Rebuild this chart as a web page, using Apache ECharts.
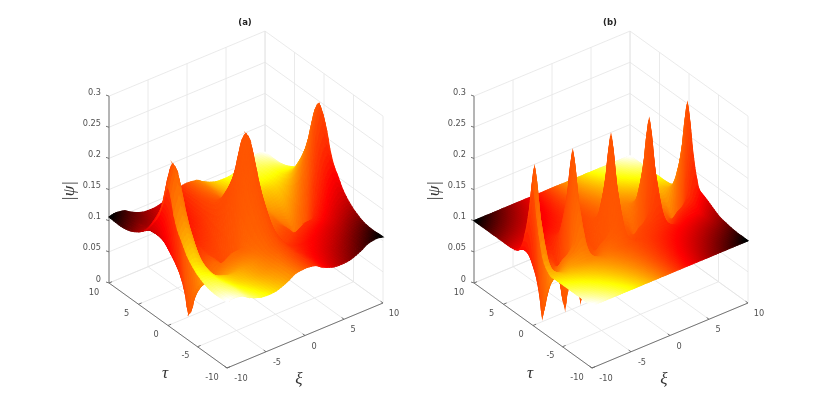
<!DOCTYPE html>
<html><head><meta charset="utf-8">
<style>html,body{margin:0;padding:0;background:#fff}#c{width:830px;height:415px}#c canvas{filter:blur(0.45px)}</style>
<script src="https://cdn.jsdelivr.net/npm/echarts@6/dist/echarts.min.js"></script>
</head><body><div id="c"></div>
<script>
// ---------- data (psi values in thousandths) ----------
const panelTitles=['(a)','(b)'];
const xiTicks=[-10,-5,0,5,10];
const tauTicks=[10,5,0,-5,-10];
const zTicks=[0,0.05,0.1,0.15,0.2,0.25,0.3];
const zLabels=['0','0.05','0.1','0.15','0.2','0.25','0.3'];

const xiA=[-10,-9.35,-8.55,-7.95,-7.35,-6.55,-5.65,-4.68,-3.7,-2.8,-2,-1.4,-0.8,0,0.8,1.4,2,2.8,3.7,4.68,5.65,6.55,7.35,7.95,8.55,9.35,10];
const tauA=[-10,-8,-6.5,-5,-4,-3.2,-2.4,-1.6,-1,-0.5,0,0.5,1,1.6,2.4,3.2,4,5,6.5,8,10];
const a00=[222,255,215,115,5,45,70,80,70,45,5,115,215,255,215,115,5,45,70,80,70,45,5,115,215,255,222];
const a05=[210,243,205,125,30,52,70,80,70,52,30,125,205,243,205,125,30,52,70,80,70,52,30,125,205,243,210];
const a10=[185,210,185,135,48,58,70,80,70,58,48,135,185,210,185,135,48,58,70,80,70,58,48,135,185,210,185];
const a16=[165,183,165,125,62,64,72,82,72,64,62,125,165,183,165,125,62,64,72,82,72,64,62,125,165,183,165];
const a24=[150,160,145,115,74,72,76,84,76,72,74,115,145,160,145,115,74,72,76,84,76,72,74,115,145,160,150];
const a32=[135,142,128,108,83,80,80,86,80,80,83,108,128,142,128,108,83,80,80,86,80,80,83,108,128,142,135];
const a40=[125,125,118,106,92,88,86,90,86,88,92,106,118,125,118,106,92,88,86,90,86,88,92,106,118,125,125];
const a50=[116,115,112,104,98,95,91,93,91,95,98,104,112,115,112,104,98,95,91,93,91,95,98,104,112,115,116];
const a65=[108,110,109,104,99,94,91,91,91,94,99,104,109,110,109,104,99,94,91,91,91,94,99,104,109,110,108];
const a80=[105,108,107,105,100,94,91,90,91,94,100,105,107,108,107,105,100,94,91,90,91,94,100,105,107,108,105];
const a100=[106,108,107,105,100,95,91,90,91,95,100,105,107,108,107,105,100,95,91,90,91,95,100,105,107,108,106];
// near-side rows (tau < 0) are lopsided about each ridge
const an16=[165,183,165,125,62,62,68,76,84,90,90,125,165,183,165,125,62,62,68,76,84,90,90,125,165,183,165];
const an24=[150,160,145,115,75,70,72,80,87,92,97,115,145,160,145,115,75,70,72,80,87,92,97,115,145,160,150];
const an32=[135,142,128,108,84,78,78,84,90,95,99,110,128,142,128,108,84,78,78,84,90,95,99,110,128,142,135];
const an40=[125,125,118,106,93,87,84,88,93,97,101,107,118,125,118,106,93,87,84,88,93,97,101,107,118,125,125];
const an50=[116,115,112,104,99,95,92,93,95,98,101,104,110,115,112,104,99,95,92,93,95,98,101,104,110,115,116];
const psiA=[a100,a80,a65,an50,an40,an32,an24,an16,a10,a05,a00,a05,a10,a16,a24,a32,a40,a50,a65,a80,a100];

const xiB=[-10,-9.8,-9.5,-9.2,-8.8,-8.3,-7.8,-7.35,-6.9,-6.4,-5.9,-5.5,-5.2,-4.9,-4.6,-4.3,-3.9,-3.4,-2.9,-2.45,-2,-1.5,-1,-0.6,-0.3,0,0.3,0.6,1,1.5,2,2.45,2.9,3.4,3.9,4.3,4.6,4.9,5.2,5.5,5.9,6.4,6.9,7.35,7.8,8.3,8.8,9.2,9.5,9.8,10];
const tauB=[-10,-8,-6,-5,-4,-3,-2.2,-1.6,-1,-0.6,-0.3,0,0.3,0.6,1,1.6,2.2,3,4,5,6,8,10];
const b00=[222,252,205,110,8,50,72,80,72,50,8,110,205,252,205,110,8,50,72,80,72,50,8,110,205,252,205,110,8,50,72,80,72,50,8,110,205,252,205,110,8,50,72,80,72,50,8,110,205,252,222];
const b03=[210,230,195,125,30,58,75,82,75,58,30,125,195,230,195,125,30,58,75,82,75,58,30,125,195,230,195,125,30,58,75,82,75,58,30,125,195,230,195,125,30,58,75,82,75,58,30,125,195,230,210];
const b06=[182,195,172,135,48,66,78,84,78,66,48,135,172,195,172,135,48,66,78,84,78,66,48,135,172,195,172,135,48,66,78,84,78,66,48,135,172,195,172,135,48,66,78,84,78,66,48,135,172,195,182];
const b10=[155,162,150,122,65,74,82,87,82,74,65,122,150,162,150,122,65,74,82,87,82,74,65,122,150,162,150,122,65,74,82,87,82,74,65,122,150,162,150,122,65,74,82,87,82,74,65,122,150,162,155];
const b16=[125,124,120,106,80,84,88,91,88,84,80,106,120,124,120,106,80,84,88,91,88,84,80,106,120,124,120,106,80,84,88,91,88,84,80,106,120,124,120,106,80,84,88,91,88,84,80,106,120,124,125];
const b22=[108,108,106,101,92,92,95,97,95,92,92,101,106,108,106,101,92,92,95,97,95,92,92,101,106,108,106,101,92,92,95,97,95,92,92,101,106,108,106,101,92,92,95,97,95,92,92,101,106,108,108];
const b30=[102,100,100,100,98,98,99,100,99,98,98,100,100,100,100,100,98,98,99,100,99,98,98,100,100,100,100,100,98,98,99,100,99,98,98,100,100,100,100,100,98,98,99,100,99,98,98,100,100,100,102];
const bn10=[155,162,150,122,65,74,82,90,96,100,108,122,145,162,150,122,65,74,82,90,96,100,108,122,145,162,150,122,65,74,82,90,96,100,108,122,145,162,150,122,65,74,82,90,96,100,108,122,145,162,155];
const bn16=[122,124,120,106,80,82,88,95,100,104,108,114,120,124,120,106,80,82,88,95,100,104,108,114,120,124,120,106,80,82,88,95,100,104,108,114,120,124,120,106,80,82,88,95,100,104,108,114,120,124,125];
const bn22=[108,108,106,100,92,91,95,99,102,104,106,108,108,108,106,100,92,91,95,99,102,104,106,108,108,108,106,100,92,91,95,99,102,104,106,108,108,108,106,100,92,91,95,99,102,104,106,108,108,108,108];
const bn30=[100,100,100,100,98,97,99,100,100,100,100,100,100,100,100,100,98,97,99,100,100,100,100,100,100,100,100,100,98,97,99,100,100,100,100,100,100,100,100,100,98,97,99,100,100,100,100,100,100,100,100];
const bFlat=[100,100,100,100,100,100,100,100,100,100,100,100,100,100,100,100,100,100,100,100,100,100,100,100,100,100,100,100,100,100,100,100,100,100,100,100,100,100,100,100,100,100,100,100,100,100,100,100,100,100,100];
const psiBbase=[bFlat,bFlat,bFlat,bFlat,bFlat,bn30,bn22,bn16,bn10,b06,b03,b00,b03,b06,b10,b16,b22,b30,bFlat,bFlat,bFlat,bFlat,bFlat];
// the last ridge of (b) keeps a longer tail on its near side: its three outer columns, row by row
const colB95=[100,100,101,103,106,110,116,126,150,172,195,205,195,172,150,124,108,100,100,100,100,100,100];
const colB98=[100,100,102,105,111,118,124,131,162,195,230,252,230,195,162,128,108,100,100,100,100,100,100];
const colB10=[100,100,103,106,112,118,122,128,155,182,210,222,210,182,155,125,108,102,100,100,100,100,100];
const psiB=psiBbase.map((r,j)=>r.slice(0,48).concat([colB95[j],colB98[j],colB10[j]]));

// ---------- view and colouring ----------
const panels=[
 {xi:xiA,tau:tauA,psi:psiA,ox:227,title:panelTitles[0]},
 {xi:xiB,tau:tauB,psi:psiB,ox:592,title:panelTitles[1]}
];
function proj(P,xi,tau,z){
  const A=xi+10,B=tau+10;
  return [P.ox+A*7.8-B*5.9, 368-A*3.25-B*4.25-z*623];
}
const clamp=(v,a,b)=>Math.max(a,Math.min(b,v));
function hot(t){
  t=clamp(t,0,1);
  const r=clamp(t/0.375,0,1),g=clamp((t-0.375)/0.375,0,1),b=clamp((t-0.75)/0.25,0,1);
  return 'rgb('+Math.round(r*255)+','+Math.round(g*255)+','+Math.round(b*255)+')';
}
// the colour scale runs across the product of the two floor coordinates
function colour(xi,tau){return hot(0.5+0.0052*xi*tau);}
function cr(a,b,c,d,f){return 0.5*(2*b+(c-a)*f+(2*a-5*b+4*c-d)*f*f+(3*b-a-3*c+d)*f*f*f);}
function lattice(v,step){
  const o=[];
  for(let i=0;i<v.length-1;i++){
    const n=Math.max(2,Math.ceil((v[i+1]-v[i])/step));
    for(let k=0;k<n;k++)o.push([i,k/n]);
  }
  o.push([v.length-2,1]);
  return o;
}
function buildCells(P){
  const lx=lattice(P.xi,0.33),lt=lattice(P.tau,0.33);
  const nC=P.xi.length,nR=P.tau.length,g=[];
  for(const [ti,tf] of lt){
    const r0=P.psi[Math.max(ti-1,0)],r1=P.psi[ti],r2=P.psi[ti+1],r3=P.psi[Math.min(ti+2,nR-1)];
    const col=[];
    for(let c=0;c<nC;c++)col.push(cr(r0[c],r1[c],r2[c],r3[c],tf));
    const row=[];
    const tau=P.tau[ti]+tf*(P.tau[ti+1]-P.tau[ti]);
    for(const [xi,xf] of lx){
      const z=cr(col[Math.max(xi-1,0)],col[xi],col[xi+1],col[Math.min(xi+2,nC-1)],xf);
      const X=P.xi[xi]+xf*(P.xi[xi+1]-P.xi[xi]);
      row.push([X,tau,Math.max(z,1)/1000]);
    }
    g.push(row);
  }
  const cells=[];
  for(let j=g.length-2;j>=0;j--){
    for(let i=lx.length-2;i>=0;i--){
      const a=g[j][i],b=g[j][i+1],c=g[j+1][i+1],d=g[j+1][i];
      const pa=proj(P,a[0],a[1],a[2]),pb=proj(P,b[0],b[1],b[2]),pc=proj(P,c[0],c[1],c[2]),pd=proj(P,d[0],d[1],d[2]);
      cells.push({value:[pa[0],pa[1],pb[0],pb[1],pc[0],pc[1],pd[0],pd[1]],col:colour((a[0]+c[0])/2,(a[1]+c[1])/2)});
    }
  }
  return cells;
}
function surfaceSeries(P){
  const cells=buildCells(P);
  return {type:'custom',coordinateSystem:'cartesian2d',silent:true,clip:false,animation:false,progressive:0,z:3,
    data:cells.map(c=>c.value),
    renderItem:function(p,api){
      const pts=[0,2,4,6].map(k=>api.coord([api.value(k),api.value(k+1)]));
      const c=cells[p.dataIndex].col;
      return {type:'polygon',shape:{points:pts},style:{fill:c,stroke:c,lineWidth:1.1}};
    }};
}
function linesSeries(P){
  const grid=[],axis=[];
  const seg=(L,a,b)=>L.push([a[0],a[1],b[0],b[1]]);
  for(const v of xiTicks){
    seg(grid,proj(P,v,-10,0),proj(P,v,10,0));
    seg(grid,proj(P,v,10,0),proj(P,v,10,0.3));
    seg(axis,proj(P,v,-10,0),proj(P,v,-9.6,0));
  }
  for(const v of tauTicks){
    seg(grid,proj(P,-10,v,0),proj(P,10,v,0));
    seg(grid,proj(P,10,v,0),proj(P,10,v,0.3));
    seg(axis,proj(P,-10,v,0),proj(P,-9.6,v,0));
  }
  for(const v of zTicks){
    seg(grid,proj(P,-10,10,v),proj(P,10,10,v));
    seg(grid,proj(P,10,10,v),proj(P,10,-10,v));
    const a=proj(P,-10,10,v);
    seg(axis,a,[a[0]-3,a[1]-1]);
  }
  seg(axis,proj(P,-10,10,0),proj(P,-10,10,0.3));
  seg(axis,proj(P,-10,10,0),proj(P,-10,-10,0));
  seg(axis,proj(P,-10,-10,0),proj(P,10,-10,0));
  const mk=(L,col,w,z)=>({type:'custom',coordinateSystem:'cartesian2d',silent:true,clip:false,animation:false,z:z,data:L,
    renderItem:function(p,api){
      const a=api.coord([api.value(0),api.value(1)]),b=api.coord([api.value(2),api.value(3)]);
      return {type:'line',shape:{x1:a[0],y1:a[1],x2:b[0],y2:b[1]},style:{stroke:col,lineWidth:w}};
    }});
  return [mk(grid,'#e4e4e4',0.8,1),mk(axis,'#666666',0.9,2)];
}
function textsSeries(P){
  const T=[];
  const add=(x,y,s,o)=>T.push(Object.assign({x,y,s},o||{}));
  for(let i=0;i<zTicks.length;i++){
    const a=proj(P,-10,10,zTicks[i]);
    add(a[0]-8,a[1]-3.5,zLabels[i],{align:'right'});
  }
  for(const v of tauTicks){
    const a=proj(P,-10,v,0),wide=Math.abs(v)==10;
    add(a[0]+(wide?-15:-12),a[1]+9.5,String(v));
  }
  for(const v of xiTicks){
    const a=proj(P,v,-10,0),s=String(v);
    add(a[0]+(s.length>=3?14:(s.length==2&&v<0?11:(v==10?11:9))),a[1]+11,s);
  }
  add(P.ox+18,23,P.title,{font:'bold 8.5px "DejaVu Sans"',fill:'#222'});
  add(P.ox-62,374,'\u03C4',{font:'italic 17px "Liberation Serif"',fill:'#333'});
  add(P.ox+72,380,'\u03BE',{font:'italic 17px "Liberation Serif"',fill:'#333'});
  add(P.ox-157,191,'|\u03C8|',{font:'italic 17px "Liberation Serif"',fill:'#333',rot:Math.PI/2});
  return {type:'custom',coordinateSystem:'cartesian2d',silent:true,clip:false,animation:false,z:5,
    data:T.map(t=>[t.x,t.y]),
    renderItem:function(p,api){
      const t=T[p.dataIndex],c=api.coord([api.value(0),api.value(1)]);
      return {type:'text',x:c[0],y:c[1],rotation:t.rot||0,style:{text:t.s,font:t.font||'8.2px "DejaVu Sans"',fill:t.fill||'#505050',
        textAlign:t.align||'center',textVerticalAlign:'middle'}};
    }};
}
const series=[];
for(const P of panels){
  series.push(...linesSeries(P));
  series.push(surfaceSeries(P));
  series.push(textsSeries(P));
}
const chart=echarts.init(document.getElementById('c'),null,{renderer:'canvas'});
chart.setOption({
  backgroundColor:'#ffffff',animation:false,
  grid:{left:0,right:0,top:0,bottom:0,containLabel:false},
  xAxis:{type:'value',min:0,max:830,show:false},
  yAxis:{type:'value',min:0,max:415,inverse:true,show:false},
  series
});
</script></body></html>
